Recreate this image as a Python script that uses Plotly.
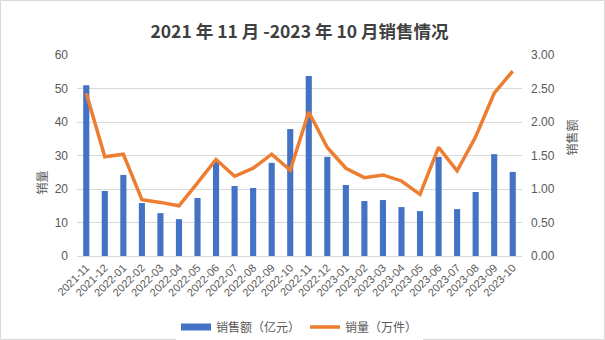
import plotly.graph_objects as go

months = [
    "2021-11", "2021-12", "2022-01", "2022-02", "2022-03", "2022-04",
    "2022-05", "2022-06", "2022-07", "2022-08", "2022-09", "2022-10",
    "2022-11", "2022-12", "2023-01", "2023-02", "2023-03", "2023-04",
    "2023-05", "2023-06", "2023-07", "2023-08", "2023-09", "2023-10",
]
sales_amount = [
    51.0, 19.4, 24.2, 15.8, 12.8, 11.0, 17.3, 28.4, 20.9, 20.3, 27.8, 37.9,
    53.7, 29.6, 21.2, 16.4, 16.7, 14.6, 13.4, 29.6, 14.0, 19.1, 30.4, 25.1,
]
sales_volume = [
    2.43, 1.48, 1.52, 0.84, 0.80, 0.75, 1.09, 1.44, 1.19, 1.31, 1.52, 1.28,
    2.15, 1.62, 1.31, 1.17, 1.21, 1.12, 0.92, 1.62, 1.27, 1.78, 2.43, 2.76,
]
left_ticks = [0, 10, 20, 30, 40, 50, 60]
right_ticks = [0, 0.5, 1.0, 1.5, 2.0, 2.5, 3.0]

W, H = 605, 340
ML, MR, MT, MB = 77, 83, 55, 84
PW, PH = W - ML - MR, H - MT - MB

grey_text = "#595959"
grid = "#D9D9D9"
blue = "#4472C4"
orange = "#ED7D31"
font_main = "Liberation Sans, Noto Sans CJK SC, sans-serif"
font_cjk = "Noto Sans CJK SC, sans-serif"

fig = go.Figure()
fig.add_trace(go.Bar(
    x=months, y=sales_amount, name="销售额（亿元）",
    marker=dict(color=blue, line=dict(width=0)),
    yaxis="y", showlegend=False,
))
# wide swatch for the bar series in the legend
fig.add_trace(go.Scatter(
    x=[None], y=[None], name="销售额（亿元）", mode="lines",
    line=dict(color=blue, width=7), yaxis="y",
))
fig.add_trace(go.Scatter(
    x=months, y=sales_volume, name="销量（万件）",
    mode="lines", line=dict(color=orange, width=3.5),
    yaxis="y2",
))

def px_x(p):
    return (p - ML) / PW

def px_y(p):
    return (H - MB - p) / PH

fig.update_layout(
    width=W, height=H,
    margin=dict(l=ML, r=MR, t=MT, b=MB, autoexpand=False),
    paper_bgcolor="white", plot_bgcolor="white",
    bargap=0.67,
    showlegend=True,
    legend=dict(
        orientation="h", x=0.5, xanchor="center", y=px_y(327), yanchor="middle",
        font=dict(family=font_cjk, size=12, color=grey_text),
        itemwidth=30, tracegroupgap=0,
    ),
    title=dict(
        text="<b>2021 年 11 月 -2023 年 10 月销售情况</b>",
        x=0.5, xref="paper", xanchor="center",
        y=1 - 32 / H, yref="container", yanchor="middle",
        font=dict(family=font_cjk, size=17.5, color="#404040"),
    ),
    xaxis=dict(
        type="category", tickangle=-45, automargin=False,
        tickfont=dict(family=font_main, size=11, color=grey_text),
        showgrid=False, showline=True, linecolor=grid, linewidth=1,
        ticks="", ticklen=0, zeroline=False,
    ),
    yaxis=dict(
        range=[0, 60], tickvals=left_ticks, automargin=False,
        tickfont=dict(family=font_main, size=12, color=grey_text),
        showgrid=True, gridcolor=grid, gridwidth=1, zeroline=False,
        showline=False, ticks="", ticklabelstandoff=8,
    ),
    yaxis2=dict(
        range=[0, 3], tickvals=right_ticks, tickformat=".2f",
        overlaying="y", side="right", automargin=False,
        tickfont=dict(family=font_main, size=12, color=grey_text),
        showgrid=False, zeroline=False, showline=False, ticks="",
        ticklabelstandoff=8,
    ),
    annotations=[
        dict(text="销量", x=px_x(30), y=px_y(183), xref="paper", yref="paper",
             textangle=-90, showarrow=False,
             font=dict(family=font_cjk, size=12, color=grey_text)),
        dict(text="销售额", x=px_x(581), y=px_y(118), xref="paper", yref="paper",
             textangle=-90, showarrow=False,
             font=dict(family=font_cjk, size=12, color=grey_text)),
    ],
    shapes=[
        dict(type="rect", xref="paper", yref="paper",
             x0=px_x(0.5), x1=px_x(W - 0.5), y0=px_y(H - 0.5), y1=px_y(0.5),
             line=dict(color="#D9D9D9", width=1), layer="below"),
    ],
)

fig.write_html("out.html")
